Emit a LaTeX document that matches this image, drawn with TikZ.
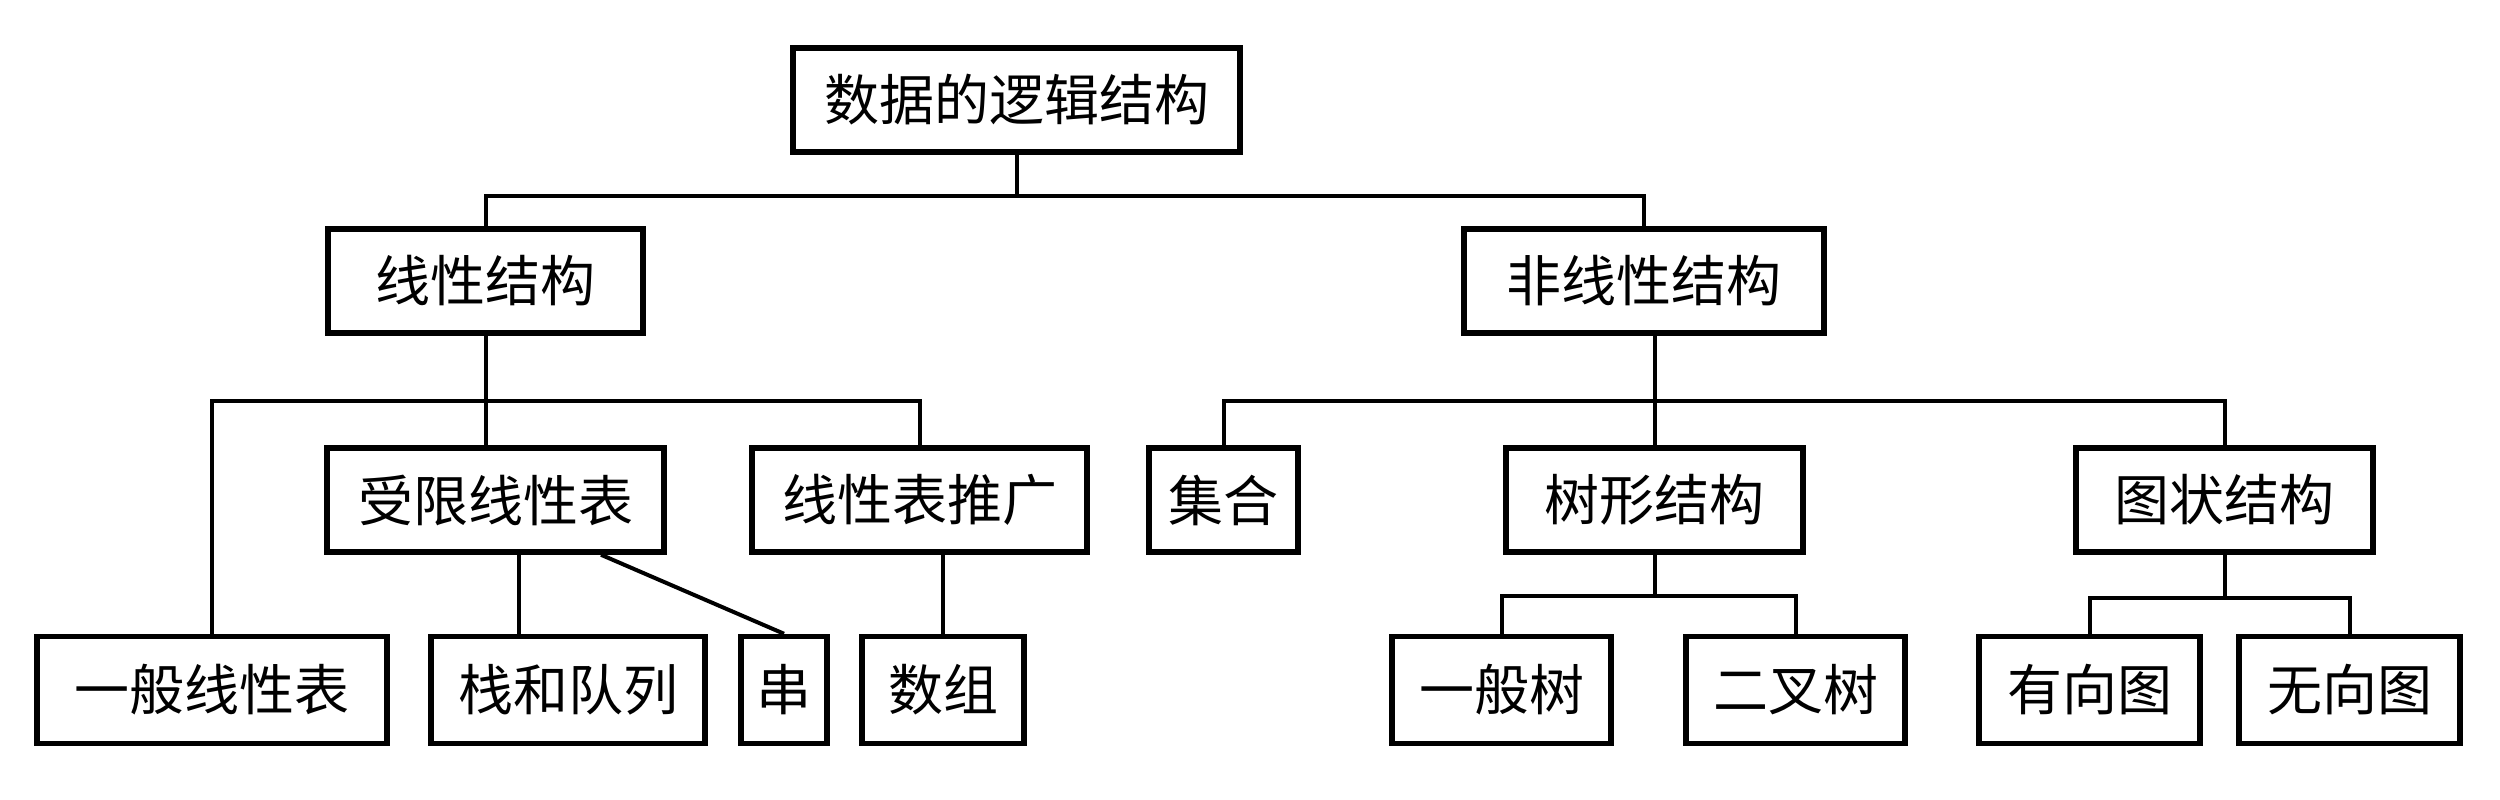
\documentclass[tikz,border=0pt]{standalone}
\usepackage{fontspec}
\newfontfamily\cjk{Noto Sans CJK SC}

\begin{document}
\begin{tikzpicture}[x=1pt,y=-1pt]
	\tikzset{mybox/.style={draw, line width=5.5pt, inner sep=0pt, minimum height=104pt, font=\cjk\fontsize{55}{60}\selectfont}}
	\tikzset{wire/.style={line width=4pt}}
	\useasboundingbox (0,0) rectangle (2500,800);

	\draw (1016.5,100) node [mybox, minimum width=447pt] (TOP) {数据的逻辑结构};

	\draw (485.5,281) node [mybox, minimum width=315pt] (LIN) {线性结构};
	\draw (1644,281) node [mybox, minimum width=360pt] (NONLIN) {非线性结构};

	\draw (495.5,500) node [mybox, minimum width=337pt] (REST) {受限线性表};
	\draw (919.5,500) node [mybox, minimum width=335pt] (EXT) {线性表推广};
	\draw (1223.5,500) node [mybox, minimum width=149pt] (SET) {集合};
	\draw (1654.5,500) node [mybox, minimum width=297pt] (TREE) {树形结构};
	\draw (2224.5,500) node [mybox, minimum width=297pt] (GRAPH) {图状结构};

	\draw (212,690) node [mybox, minimum width=350pt, minimum height=107pt] (GENLIST) {一般线性表};
	\draw (568,690) node [mybox, minimum width=274pt, minimum height=107pt] (STACK) {栈和队列};
	\draw (784,690) node [mybox, minimum width=86pt, minimum height=107pt] (STR) {串};
	\draw (943,690) node [mybox, minimum width=162pt, minimum height=107pt] (ARR) {数组};
	\draw (1501.5,690) node [mybox, minimum width=219pt, minimum height=107pt] (GTREE) {一般树};
	\draw (1795.5,690) node [mybox, minimum width=219pt, minimum height=107pt] (BTREE) {二叉树};
	\draw (2089.5,690) node [mybox, minimum width=221pt, minimum height=107pt] (DG) {有向图};
	\draw (2349.5,690) node [mybox, minimum width=221pt, minimum height=107pt] (UG) {无向图};

	\draw [wire] (TOP.south) -- ++(0,41) coordinate (B1);
	\draw [wire] (LIN.north) |- (B1) -| (NONLIN.north);

	\draw [wire] (LIN.south) -- (LIN.south |- REST.north);
	\draw [wire] (LIN.south) ++(0,65) coordinate (B2);
	\draw [wire] (GENLIST.north) |- (B2) -| (EXT.north);

	\draw [wire] (NONLIN.south -| TREE.north) -- (TREE.north);
	\draw [wire] (NONLIN.south -| TREE.north) ++(0,65) coordinate (B3);
	\draw [wire] (SET.north) |- (B3) -| (GRAPH.north);

	\draw [wire] ([xshift=23.5pt]REST.south) -- ([xshift=23.5pt]REST.south |- STACK.north);
	\draw [wire] ([xshift=105.5pt]REST.south) -- (STR.north);
	\draw [wire] (ARR.north |- EXT.south) -- (ARR.north);

	\draw [wire] (TREE.south) -- ++(0,41) coordinate (B4);
	\draw [wire] (GTREE.north) |- (B4) -| (BTREE.north);

	\draw [wire] (GRAPH.south) -- ++(0,43) coordinate (B5);
	\draw [wire] (DG.north) |- (B5) -| (UG.north);
\end{tikzpicture}
\end{document}
